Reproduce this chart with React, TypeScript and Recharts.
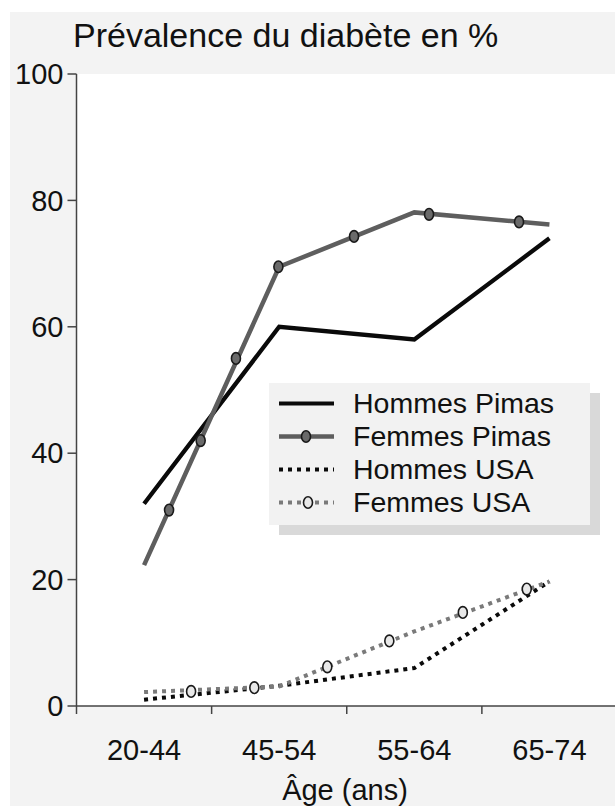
import React from "react";
import { ComposedChart, Line, Scatter, XAxis, YAxis, CartesianGrid, Legend } from "recharts";

const categories = ["20-44", "45-54", "55-64", "65-74"];
const categoryCenters = [0.5, 1.5, 2.5, 3.5];
const categoryBounds = [0, 1, 2, 3, 4];
const yTicks = [0, 20, 40, 60, 80, 100];

const hommesPimas = [32, 60, 58, 74];
const femmesPimas = [22.3, 69.5, 78.1, 76.2];
const hommesUSA = [1.0, 3.2, 6.0, 19.7];
const femmesUSA = [2.2, 3.1, 11.8, 19.7];

const femmesPimasMarkerX = [0.685, 0.919, 1.18, 1.494, 2.054, 2.609, 3.275];
const femmesPimasMarkerY = [31, 42, 55, 69.5, 74.3, 77.8, 76.6];
const femmesUSAMarkerX = [0.848, 1.316, 1.856, 2.315, 2.859, 3.332];
const femmesUSAMarkerY = [2.3, 2.9, 6.2, 10.3, 14.8, 18.5];

const FONT = "'Liberation Sans', Arial, sans-serif";
const C_BLACK = "#0a0a0a";
const C_GRAY = "#5e5e5e";
const C_LGRAY = "#7a7a7a";

const toPoints = (vals: number[]) => categoryCenters.map((x, i) => ({ x, y: vals[i] }));
const toMarkers = (xs: number[], ys: number[]) => xs.map((x, i) => ({ x, y: ys[i] }));

const hpData = toPoints(hommesPimas);
const fpData = toPoints(femmesPimas);
const huData = toPoints(hommesUSA);
const fuData = toPoints(femmesUSA);
const fpMarkers = toMarkers(femmesPimasMarkerX, femmesPimasMarkerY);
const fuMarkers = toMarkers(femmesUSAMarkerX, femmesUSAMarkerY);

const PimaMarker = (props: any) => (
  <ellipse cx={props.cx} cy={props.cy} rx={4.5} ry={5.8} fill="#6a6a6a" stroke="#1a1a1a" strokeWidth={1.6} />
);
const USAMarker = (props: any) => (
  <ellipse cx={props.cx} cy={props.cy} rx={4.5} ry={5.8} fill="#e8e8e8" stroke="#1a1a1a" strokeWidth={1.6} />
);
const EmptyTick = () => <g />;

const legendItems = [
  { name: "Hommes Pimas", color: C_BLACK, dash: undefined as string | undefined, marker: "none", width: 4 },
  { name: "Femmes Pimas", color: C_GRAY, dash: undefined as string | undefined, marker: "pima", width: 4.5 },
  { name: "Hommes USA", color: C_BLACK, dash: "4 5", marker: "none", width: 4 },
  { name: "Femmes USA", color: C_LGRAY, dash: "4 5", marker: "usa", width: 4 },
];

const renderLegend = () => (
  <div
    style={{
      width: 321,
      height: 142,
      boxSizing: "border-box",
      paddingTop: 4,
      background: "#f2f2f2",
      boxShadow: "10px 10px 0 #d9d9d9",
      fontFamily: FONT,
      textAlign: "left",
    }}
  >
    {legendItems.map((it) => (
      <div key={it.name} style={{ display: "flex", alignItems: "center", height: 33 }}>
        <svg width={84} height={33} style={{ display: "block", flex: "none" }}>
          <line x1={10} y1={16.5} x2={65} y2={16.5} stroke={it.color} strokeWidth={it.width} strokeDasharray={it.dash} />
          {it.marker === "pima" && <PimaMarker cx={37} cy={16.5} />}
          {it.marker === "usa" && <USAMarker cx={39} cy={16.5} />}
        </svg>
        <span style={{ fontSize: 28.5, color: "#111", lineHeight: "33px", whiteSpace: "nowrap" }}>{it.name}</span>
      </div>
    ))}
  </div>
);

export default function App() {
  return (
    <div
      style={{
        position: "absolute",
        left: 0,
        top: 0,
        width: 615,
        height: 806,
        background: "#fff",
        overflow: "hidden",
        fontFamily: FONT,
      }}
    >
      <div style={{ position: "absolute", left: 10, top: 12, right: 0, bottom: 0, background: "#f3f3f3" }} />
      <div
        style={{
          position: "absolute",
          left: 73,
          top: 18,
          fontSize: 34,
          lineHeight: "34px",
          color: "#111",
          whiteSpace: "nowrap",
        }}
      >
        Prévalence du diabète en %
      </div>
      <div style={{ position: "absolute", left: 0, top: 0 }}>
        <ComposedChart width={630} height={806} margin={{ top: 74, right: 13, left: 16.5, bottom: 40 }}>
          <CartesianGrid xAxisId="a" fill="#ffffff" horizontal={false} vertical={false} />
          <XAxis
            xAxisId="a"
            type="number"
            dataKey="x"
            domain={[0, 4]}
            ticks={categoryBounds}
            interval={0}
            tick={EmptyTick}
            tickLine={{ stroke: "#444", strokeWidth: 1.5 }}
            tickSize={8}
            height={1}
            stroke="#444"
            strokeWidth={1.5}
            allowDataOverflow
          />
          <XAxis
            xAxisId="b"
            type="number"
            dataKey="x"
            domain={[0, 4]}
            ticks={categoryCenters}
            interval={0}
            tickFormatter={(v: number) => categories[categoryCenters.indexOf(v)]}
            axisLine={false}
            tickLine={false}
            tickSize={0}
            tickMargin={32}
            height={59}
            tick={{ fontSize: 29, fill: "#111", fontFamily: FONT }}
            allowDataOverflow
          />
          <YAxis
            type="number"
            domain={[0, 100]}
            ticks={yTicks}
            interval={0}
            width={60}
            tickSize={9}
            tickMargin={4}
            stroke="#444"
            strokeWidth={1.5}
            tick={{ fontSize: 29, fill: "#111", fontFamily: FONT }}
          />
          <Line xAxisId="a" data={hpData} dataKey="y" type="linear" stroke={C_BLACK} strokeWidth={4.3} dot={false} activeDot={false} isAnimationActive={false} />
          <Line xAxisId="a" data={fpData} dataKey="y" type="linear" stroke={C_GRAY} strokeWidth={4.5} dot={false} activeDot={false} isAnimationActive={false} />
          <Line xAxisId="a" data={huData} dataKey="y" type="linear" stroke={C_BLACK} strokeWidth={4} strokeDasharray="4 5" dot={false} activeDot={false} isAnimationActive={false} />
          <Line xAxisId="a" data={fuData} dataKey="y" type="linear" stroke={C_LGRAY} strokeWidth={4} strokeDasharray="4 5" dot={false} activeDot={false} isAnimationActive={false} />
          <Scatter xAxisId="a" data={fpMarkers} dataKey="y" shape={PimaMarker} isAnimationActive={false} />
          <Scatter xAxisId="a" data={fuMarkers} dataKey="y" shape={USAMarker} isAnimationActive={false} />
          <Legend
            layout="vertical"
            align="center"
            verticalAlign="middle"
            content={renderLegend}
            wrapperStyle={{ position: "absolute", left: 269, top: 383, width: 321, height: 142 }}
          />
        </ComposedChart>
      </div>
      <div
        style={{
          position: "absolute",
          left: 245,
          top: 776,
          width: 200,
          textAlign: "center",
          fontSize: 29,
          lineHeight: "29px",
          color: "#111",
          whiteSpace: "nowrap",
        }}
      >
        Âge (ans)
      </div>
    </div>
  );
}
